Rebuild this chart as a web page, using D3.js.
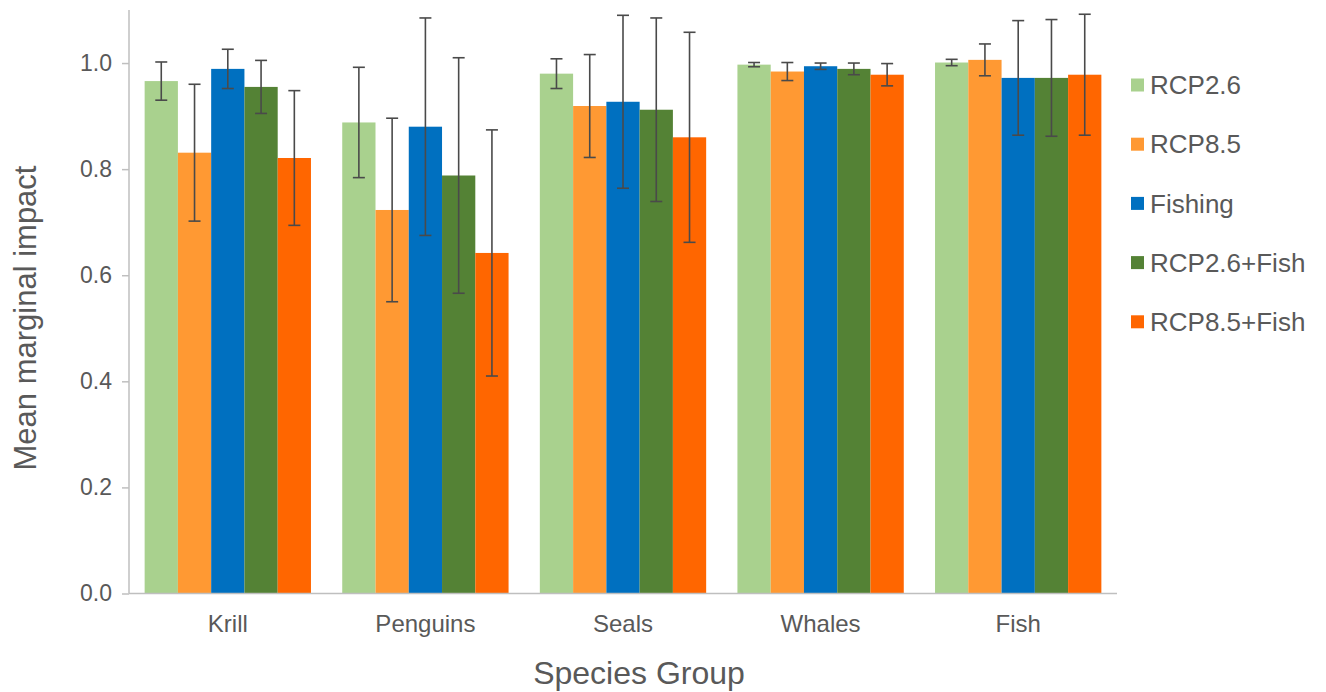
<!DOCTYPE html>
<html>
<head>
<meta charset="utf-8">
<script src="https://cdn.jsdelivr.net/npm/d3@7"></script>
<style>
  html, body { margin: 0; padding: 0; background: #ffffff; }
  svg { display: block; font-family: "Liberation Sans", Arial, sans-serif; }
</style>
</head>
<body>
<svg id="chart" width="1326" height="692"></svg>
<script>
const categories = ["Krill", "Penguins", "Seals", "Whales", "Fish"];
const seriesNames = ["RCP2.6", "RCP8.5", "Fishing", "RCP2.6+Fish", "RCP8.5+Fish"];
const seriesColors = ["#A9D18E", "#FF9933", "#0070C0", "#548235", "#FF6600"];

// mean values per series, one entry per category
const rcp26 = [0.966, 0.888, 0.980, 0.997, 1.001];
const rcp85 = [0.831, 0.723, 0.919, 0.984, 1.006];
const fishing = [0.989, 0.880, 0.927, 0.994, 0.972];
const rcp26Fish = [0.955, 0.788, 0.912, 0.989, 0.972];
const rcp85Fish = [0.821, 0.642, 0.860, 0.978, 0.978];

// error (± half range) per series
const rcp26Err = [0.036, 0.104, 0.028, 0.004, 0.006];
const rcp85Err = [0.129, 0.173, 0.097, 0.017, 0.030];
const fishingErr = [0.037, 0.205, 0.163, 0.006, 0.108];
const rcp26FishErr = [0.050, 0.222, 0.173, 0.011, 0.110];
const rcp85FishErr = [0.127, 0.232, 0.198, 0.021, 0.114];

const yTicks = [0.0, 0.2, 0.4, 0.6, 0.8, 1.0];
const yTitle = "Mean marginal impact";
const xTitle = "Species Group";

const seriesValues = [rcp26, rcp85, fishing, rcp26Fish, rcp85Fish];
const seriesErrors = [rcp26Err, rcp85Err, fishingErr, rcp26FishErr, rcp85FishErr];

const data = [];
categories.forEach((c, ci) => {
  seriesNames.forEach((s, si) => {
    data.push({cat: c, series: s, si: si, value: seriesValues[si][ci], err: seriesErrors[si][ci]});
  });
});

const svg = d3.select("#chart");
const mLeft = 129, mRight = 1117, mTop = 10, mBottom = 593.5;
const textColor = "#595959";
const axisColor = "#BFBFBF";

const x0 = d3.scaleBand().domain(categories).range([mLeft, mRight]).paddingInner(0).paddingOuter(0);
const x1 = d3.scaleBand().domain(seriesNames).range([0, x0.bandwidth()]).paddingInner(0).paddingOuter(0.47);
const y = d3.scaleLinear().domain([0, 1.1]).range([mBottom, mTop]);
const color = d3.scaleOrdinal().domain(seriesNames).range(seriesColors);

// bars
svg.append("g").selectAll("rect").data(data).join("rect")
  .attr("x", d => x0(d.cat) + x1(d.series))
  .attr("y", d => y(d.value))
  .attr("width", x1.bandwidth())
  .attr("height", d => y(0) - y(d.value))
  .attr("fill", d => color(d.series));

// error bars
const eg = svg.append("g").attr("stroke", "#4a4a4a").attr("stroke-width", 1.6);
const capW = 6;
data.forEach(d => {
  const cx = x0(d.cat) + x1(d.series) + x1.bandwidth() / 2;
  const y1 = y(d.value + d.err), y2 = y(d.value - d.err);
  eg.append("line").attr("x1", cx).attr("x2", cx).attr("y1", y1).attr("y2", y2);
  eg.append("line").attr("x1", cx - capW).attr("x2", cx + capW).attr("y1", y1).attr("y2", y1);
  eg.append("line").attr("x1", cx - capW).attr("x2", cx + capW).attr("y1", y2).attr("y2", y2);
});

// y axis
const yAxis = d3.axisLeft(y).tickValues(yTicks).tickFormat(d3.format(".1f")).tickSize(7).tickPadding(10);
const gy = svg.append("g").attr("transform", `translate(${mLeft},0)`).call(yAxis);
gy.select(".domain").remove();
gy.append("line").attr("x1", 0).attr("x2", 0).attr("y1", mTop).attr("y2", mBottom).attr("stroke", axisColor).attr("stroke-width", 1.5);
gy.selectAll(".tick line").attr("stroke", axisColor).attr("stroke-width", 1.5);
gy.selectAll(".tick text").attr("fill", textColor).style("font-size", "23px").style("font-family", "Liberation Sans, Arial, sans-serif");

// x axis
const xAxis = d3.axisBottom(x0).tickSize(0).tickPadding(21);
const gx = svg.append("g").attr("transform", `translate(0,${mBottom})`).call(xAxis);
gx.select(".domain").attr("stroke", axisColor).attr("stroke-width", 1.5).attr("d", `M${mLeft},0H${mRight}`);
gx.selectAll(".tick text").attr("fill", textColor).style("font-size", "24px").style("font-family", "Liberation Sans, Arial, sans-serif");

// axis titles
svg.append("text")
  .attr("x", 639)
  .attr("y", 684)
  .attr("text-anchor", "middle")
  .attr("fill", textColor)
  .style("font-size", "32px")
  .text(xTitle);

svg.append("text")
  .attr("transform", `translate(36,318) rotate(-90)`)
  .attr("text-anchor", "middle")
  .attr("fill", textColor)
  .style("font-size", "31px")
  .text(yTitle);

// legend
const legend = svg.append("g");
seriesNames.forEach((s, i) => {
  const ly = 85 + i * 59.2;
  legend.append("rect").attr("x", 1131).attr("y", ly - 6.5).attr("width", 13).attr("height", 13).attr("fill", color(s));
  legend.append("text").attr("x", 1150).attr("y", ly).attr("dy", "0.35em")
    .attr("fill", textColor).style("font-size", "26px").text(s);
});
</script>
</body>
</html>
